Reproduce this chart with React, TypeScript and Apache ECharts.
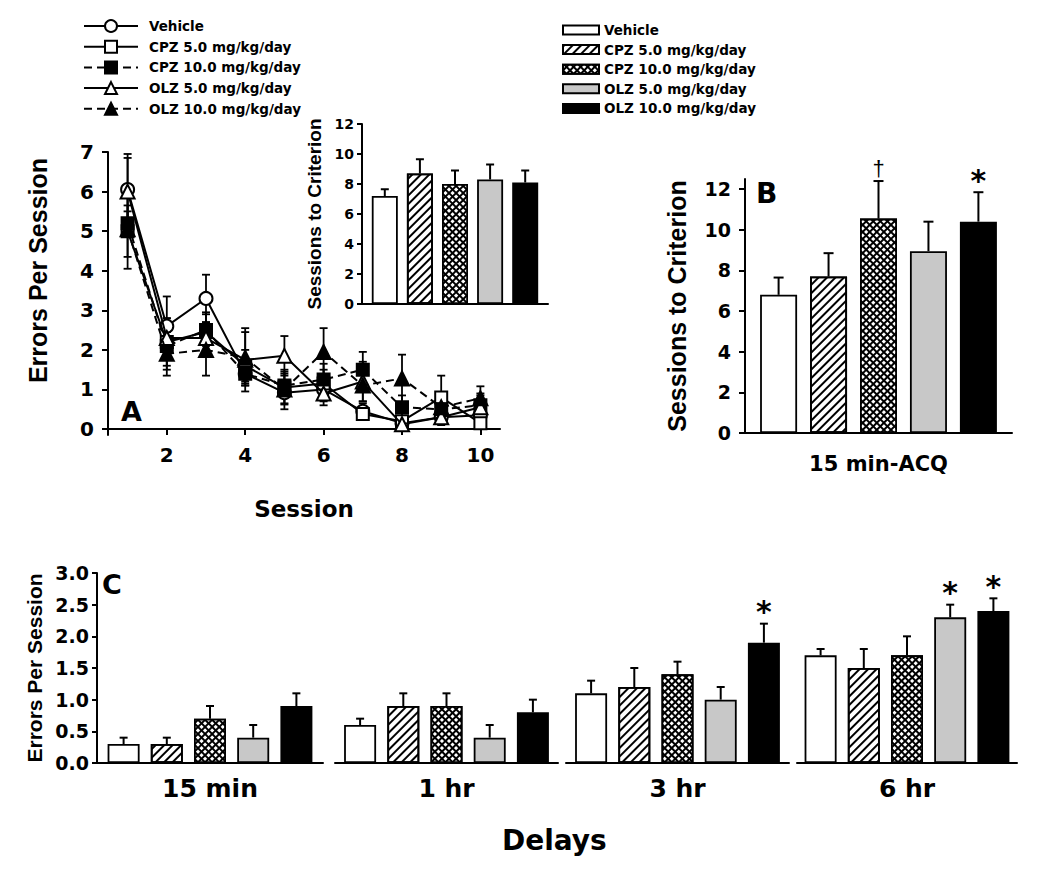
import React, { useEffect, useRef } from 'react';
import * as echarts from 'echarts';

// ---------- data ----------
const groupNames = ['Vehicle', 'CPZ 5.0 mg/kg/day', 'CPZ 10.0 mg/kg/day', 'OLZ 5.0 mg/kg/day', 'OLZ 10.0 mg/kg/day'];
const sessions = [1, 2, 3, 4, 5, 6, 7, 8, 9, 10];
const sessionTicks = [2, 4, 6, 8, 10];
const errorTicksA = [0, 1, 2, 3, 4, 5, 6, 7];
const criterionTicksB = [0, 2, 4, 6, 8, 10, 12];

// Panel A: errors per session (mean, SEM)
const vehicleA = [6.05, 2.6, 3.3, 1.4, 0.92, 1.0, 0.45, 0.15, 0.3, 0.35];
const vehicleAErr = [0.9, 0.75, 0.6, 0.3, 0.3, 0.3, 0.2, 0.1, 0.15, 0.2];
const cpz5A = [5.0, 2.2, 2.45, 1.6, 1.05, 1.15, 0.38, 0.2, 0.8, 0.15];
const cpz5AErr = [0.65, 0.6, 0.5, 0.4, 0.4, 0.35, 0.15, 0.1, 0.55, 0.1];
const cpz10A = [5.2, 2.1, 2.5, 1.4, 1.1, 1.25, 1.5, 0.55, 0.5, 0.6];
const cpz10AErr = [0.3, 0.6, 0.4, 0.3, 0.3, 0.4, 0.45, 0.3, 0.3, 0.3];
const olz5A = [6.0, 2.3, 2.3, 1.75, 1.85, 0.9, 1.2, 0.12, 0.3, 0.55];
const olz5AErr = [0.85, 0.5, 0.4, 0.8, 0.5, 0.3, 0.5, 0.1, 0.2, 0.3];
const olz10A = [5.05, 1.9, 2.0, 1.8, 1.0, 1.95, 1.1, 1.28, 0.55, 0.78];
const olz10AErr = [1.0, 0.55, 0.65, 0.65, 0.5, 0.6, 0.4, 0.6, 0.3, 0.3];

// Inset: sessions to criterion
const insetSessions = [7.2, 8.7, 8.0, 8.3, 8.1];
const insetSessionsErr = [0.45, 0.95, 0.9, 1.0, 0.8];

// Panel B: sessions to criterion, 15 min-ACQ
const acqCategory = ['15 min-ACQ'];
const acqSessions = [6.8, 7.7, 10.55, 8.95, 10.4];
const acqSessionsErr = [0.85, 1.15, 1.85, 1.45, 1.45];
const acqMarks = ['', '', '†', '', '*'];

// Panel C: errors per session by delay
const delays = ['15 min', '1 hr', '3 hr', '6 hr'];
const vehicleC = [0.3, 0.6, 1.1, 1.7];
const vehicleCErr = [0.1, 0.1, 0.2, 0.1];
const cpz5C = [0.3, 0.9, 1.2, 1.5];
const cpz5CErr = [0.1, 0.2, 0.3, 0.3];
const cpz10C = [0.7, 0.9, 1.4, 1.7];
const cpz10CErr = [0.2, 0.2, 0.2, 0.3];
const olz5C = [0.4, 0.4, 1.0, 2.3];
const olz5CErr = [0.2, 0.2, 0.2, 0.2];
const olz10C = [0.9, 0.8, 1.9, 2.4];
const olz10CErr = [0.2, 0.2, 0.3, 0.2];
const olz5CMarks = ['', '', '', '*'];
const olz10CMarks = ['', '', '*', '*'];

// ---------- styles ----------
const FONT = '"DejaVu Sans", sans-serif';
const FONT_R = '"Liberation Sans", Arial, sans-serif';
const BLACK = '#000';

const stripeDecal = {
  symbol: 'rect', symbolSize: 1, color: BLACK, backgroundColor: '#fff',
  dashArrayX: [1, 0], dashArrayY: [1.8, 3.2], rotation: -Math.PI / 4,
};
const crossDecal = {
  symbol: 'rect', symbolSize: 1, color: '#fff', backgroundColor: BLACK,
  dashArrayX: [3, 1.7], dashArrayY: [3, 1.7], rotation: Math.PI / 4,
};
const barFills = ['#ffffff', '#ffffff', '#000000', '#c8c8c8', '#000000'];
const barDecals: any[] = [null, stripeDecal, crossDecal, null, null];

const lineSymbols = ['circle', 'rect', 'rect', 'triangle', 'triangle'];
const lineSymbolSizes = [13, 12, 12, 14, 14];
const lineFills = ['#fff', '#fff', BLACK, '#fff', BLACK];
const lineTypes: any[] = ['solid', 'solid', [8, 5], 'solid', [8, 5]];

const axisLine = { show: true, lineStyle: { color: BLACK, width: 2 } };
const tickStyle = { lineStyle: { color: BLACK, width: 2 } };

function labelStyle(size: number, extra: any = {}) {
  return { fontFamily: FONT, fontWeight: 'bold', fontSize: size, color: BLACK, ...extra };
}

function barErrRender(barW: number, gapRatio: number, capHalf: number, marks: string[], markFonts: string[]) {
  return (params: any, api: any) => {
    const v = api.value(1) as number;
    const e = api.value(2) as number;
    const idx = api.value(3) as number;
    const base = api.coord([0, v]);
    const top = api.coord([0, v + e]);
    const x = base[0] + (idx - 2) * barW * (1 + gapRatio);
    const children: any[] = [
      { type: 'line', shape: { x1: x, y1: base[1], x2: x, y2: top[1] }, style: { stroke: BLACK, lineWidth: 2 } },
      { type: 'line', shape: { x1: x - capHalf, y1: top[1], x2: x + capHalf, y2: top[1] }, style: { stroke: BLACK, lineWidth: 2 } },
    ];
    const m = marks[params.dataIndex];
    if (m) {
      children.push({
        type: 'text',
        style: { text: m, x, y: top[1] + (m === '*' ? 3 : -2), align: 'center', verticalAlign: 'bottom', font: markFonts[m === '*' ? 0 : 1], fill: BLACK },
      });
    }
    return { type: 'group', children };
  };
}

function lineErrRender(params: any, api: any) {
  const x = api.value(0) as number;
  const v = api.value(1) as number;
  const e = api.value(2) as number;
  const hi = api.coord([x, v + e]);
  const lo = api.coord([x, v - e]);
  const st = { stroke: BLACK, lineWidth: 1.8 };
  return {
    type: 'group',
    children: [
      { type: 'line', shape: { x1: hi[0], y1: hi[1], x2: lo[0], y2: lo[1] }, style: st },
      { type: 'line', shape: { x1: hi[0] - 4, y1: hi[1], x2: hi[0] + 4, y2: hi[1] }, style: st },
      { type: 'line', shape: { x1: lo[0] - 4, y1: lo[1], x2: lo[0] + 4, y2: lo[1] }, style: st },
    ],
  };
}

function buildOption() {
  const aVals = [vehicleA, cpz5A, cpz10A, olz5A, olz10A];
  const aErrs = [vehicleAErr, cpz5AErr, cpz10AErr, olz5AErr, olz10AErr];
  const cVals = [vehicleC, cpz5C, cpz10C, olz5C, olz10C];
  const cErrs = [vehicleCErr, cpz5CErr, cpz10CErr, olz5CErr, olz10CErr];
  const cMarks = [['', '', '', ''], ['', '', '', ''], ['', '', '', ''], olz5CMarks, olz10CMarks];

  const grids: any[] = [
    { left: 108, top: 152, width: 392, height: 283 }, // A
    { left: 362, top: 124, width: 186, height: 180 }, // inset
    { left: 745, top: 179, width: 267, height: 254 }, // B
    { left: 97, top: 573, width: 226, height: 190 }, // C 15 min
    { left: 335, top: 573, width: 223, height: 190 }, // C 1 hr
    { left: 566, top: 573, width: 223, height: 190 }, // C 3 hr
    { left: 797, top: 573, width: 220, height: 190 }, // C 6 hr
  ];

  const xAxis: any[] = [
    {
      gridIndex: 0, type: 'value', min: 0.5, max: 10.5,
      axisLine, splitLine: { show: false },
      axisTick: { show: true, length: 6, customValues: sessionTicks, ...tickStyle },
      axisLabel: labelStyle(20, { margin: 10, customValues: sessionTicks }),
      name: 'Session', nameLocation: 'middle', nameGap: 62,
      nameTextStyle: labelStyle(23),
    },
    {
      gridIndex: 1, type: 'category', data: [''], axisLine,
      axisTick: { show: false }, axisLabel: { show: false },
    },
    {
      gridIndex: 2, type: 'category', data: acqCategory, axisLine,
      axisTick: { show: false }, axisLabel: labelStyle(21, { margin: 20 }),
    },
    ...delays.map((d, k) => ({
      gridIndex: 3 + k, type: 'category', data: [d], axisLine,
      axisTick: { show: false }, axisLabel: labelStyle(25, { margin: 13 }),
    })),
  ];

  const yAxis: any[] = [
    {
      gridIndex: 0, type: 'value', min: -0.15, max: 7,
      axisLine, splitLine: { show: false },
      axisTick: { show: true, length: 6, customValues: errorTicksA, ...tickStyle },
      axisLabel: labelStyle(20, { margin: 14, customValues: errorTicksA }),
      name: 'Errors Per Session', nameLocation: 'middle', nameGap: 58,
      nameTextStyle: { fontFamily: FONT_R, fontWeight: 'bold', fontSize: 25, color: BLACK, padding: [0, 0, 0, 46] },
    },
    {
      gridIndex: 1, type: 'value', min: 0, max: 12, interval: 2,
      axisLine, splitLine: { show: false },
      axisTick: { show: true, length: 5, ...tickStyle },
      axisLabel: labelStyle(14, { margin: 8 }),
      name: 'Sessions to Criterion', nameLocation: 'middle', nameGap: 38,
      nameTextStyle: { fontFamily: FONT_R, fontWeight: 'bold', fontSize: 19, color: BLACK },
    },
    {
      gridIndex: 2, type: 'value', min: 0, max: 12.5,
      axisLine, splitLine: { show: false },
      axisTick: { show: true, length: 6, customValues: criterionTicksB, ...tickStyle },
      axisLabel: labelStyle(19, { margin: 14, customValues: criterionTicksB }),
      name: 'Sessions to Criterion', nameLocation: 'middle', nameGap: 56,
      nameTextStyle: { fontFamily: FONT_R, fontWeight: 'bold', fontSize: 25, color: BLACK },
    },
    {
      gridIndex: 3, type: 'value', min: 0, max: 3, interval: 0.5,
      axisLine, splitLine: { show: false },
      axisTick: { show: true, length: 5, ...tickStyle },
      axisLabel: labelStyle(19, { margin: 8, formatter: (v: number) => v.toFixed(1) }),
      name: 'Errors Per Session', nameLocation: 'middle', nameGap: 52,
      nameTextStyle: { fontFamily: FONT_R, fontWeight: 'bold', fontSize: 21, color: BLACK },
    },
    ...[4, 5, 6].map((g) => ({ gridIndex: g, type: 'value', min: 0, max: 3, show: false })),
  ];

  const series: any[] = [];

  // Panel A error bars (behind)
  series.push({
    type: 'custom', xAxisIndex: 0, yAxisIndex: 0, z: 1, silent: true,
    renderItem: lineErrRender,
    data: aVals.flatMap((vals, s) => vals.map((v, j) => [sessions[j], v, aErrs[s][j]])),
  });
  // Panel A lines
  groupNames.forEach((name, i) => {
    series.push({
      type: 'line', name, xAxisIndex: 0, yAxisIndex: 0, z: 3 + i,
      data: sessions.map((s, j) => [s, aVals[i][j]]),
      symbol: lineSymbols[i], symbolSize: lineSymbolSizes[i], showSymbol: true,
      itemStyle: { color: lineFills[i], borderColor: BLACK, borderWidth: 2 },
      lineStyle: { color: BLACK, width: 2, type: lineTypes[i] },
    });
  });

  const addBars = (grid: number, vals: number[], errs: number[], marks: string[], barW: number, capHalf: number, markFonts: string[]) => {
    groupNames.forEach((name, i) => {
      series.push({
        type: 'bar', name: name + ' ', xAxisIndex: grid, yAxisIndex: grid,
        data: [vals[i]], barWidth: barW, barGap: '35%',
        itemStyle: { color: barFills[i], borderColor: BLACK, borderWidth: 1.8, decal: barDecals[i] || undefined },
      });
    });
    series.push({
      type: 'custom', xAxisIndex: grid, yAxisIndex: grid, z: 5, silent: true,
      renderItem: barErrRender(barW, 0.35, capHalf, marks, markFonts),
      data: vals.map((v, i) => [0, v, errs[i], i]),
    });
  };

  addBars(1, insetSessions, insetSessionsErr, ['', '', '', '', ''], 26, 4, ['bold 24px "DejaVu Sans"', '20px "Liberation Sans"']);
  addBars(2, acqSessions, acqSessionsErr, acqMarks, 37, 5, ['bold 30px "DejaVu Sans"', '22px "Liberation Sans"']);
  delays.forEach((_, k) => {
    addBars(
      3 + k,
      cVals.map((arr) => arr[k]),
      cErrs.map((arr) => arr[k]),
      cMarks.map((arr) => arr[k]),
      32, 4,
      ['bold 30px "DejaVu Sans"', '20px "Liberation Sans"'],
    );
  });

  const legendText = { fontFamily: FONT, fontWeight: 'bold', fontSize: 13.5, color: BLACK, lineHeight: 15 };

  return {
    animation: false,
    backgroundColor: '#fff',
    grid: grids,
    xAxis,
    yAxis,
    series,
    legend: [
      {
        data: groupNames, orient: 'vertical', left: 83, top: 18.5, padding: 0,
        itemWidth: 54, itemHeight: 15, itemGap: 5.7, selectedMode: false,
        textStyle: { ...legendText, padding: [0, 0, 0, 6] },
      },
      {
        data: groupNames.map((n) => n + ' '), orient: 'vertical', left: 562, top: 22.5, padding: 0,
        itemWidth: 36, itemHeight: 9, itemGap: 4.6, icon: 'rect', selectedMode: false,
        formatter: (n: string) => n.trim(),
        textStyle: legendText,
      },
    ],
    graphic: [
      { type: 'text', left: 121, top: 398, style: { text: 'A', font: 'bold 27px "DejaVu Sans"', fill: BLACK } },
      { type: 'text', left: 756, top: 179, style: { text: 'B', font: 'bold 28px "DejaVu Sans"', fill: BLACK } },
      { type: 'text', left: 102, top: 571, style: { text: 'C', font: 'bold 27px "DejaVu Sans"', fill: BLACK } },
      { type: 'text', left: 502, top: 826, style: { text: 'Delays', font: 'bold 28px "DejaVu Sans"', fill: BLACK } },
    ],
  };
}

export default function App() {
  const ref = useRef<HTMLDivElement>(null);
  useEffect(() => {
    if (!ref.current) return;
    const chart = echarts.init(ref.current, null, { renderer: 'svg' });
    chart.setOption(buildOption() as any);
    return () => chart.dispose();
  }, []);
  return (
    <div
      ref={ref}
      style={{ position: 'absolute', left: 0, top: 0, width: 1050, height: 876, background: '#fff' }}
    />
  );
}
